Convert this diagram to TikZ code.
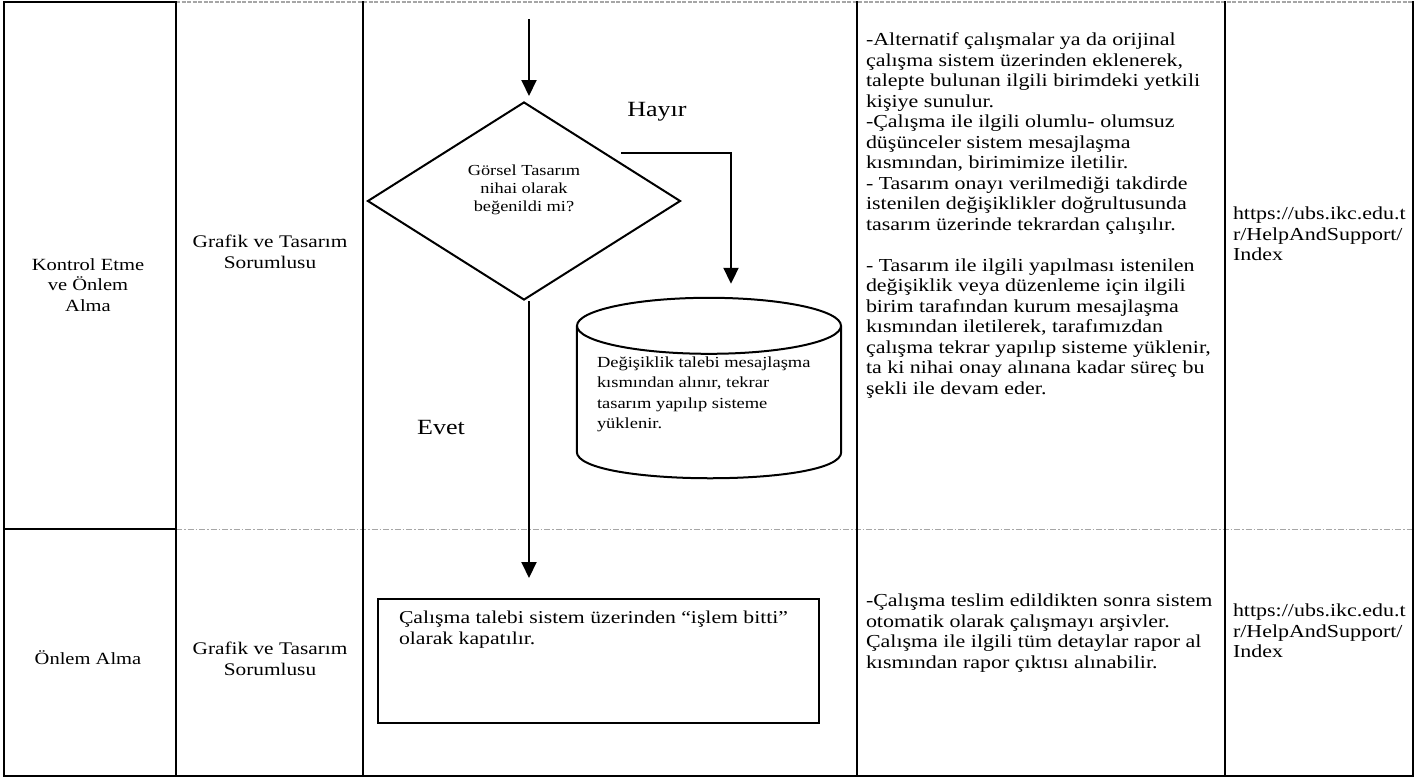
\documentclass[tikz,border=0pt]{standalone}
\usepackage{fontspec}
\setmainfont{Liberation Serif}[FakeStretch=1.2]
\usetikzlibrary{arrows.meta,shapes.geometric,calc}
\newcommand\fmain{\fontsize{18.3}{20.5}\selectfont}
\newcommand\fcolA{\fontsize{17.1}{20.5}\selectfont}
\newcommand\fcolB{\fontsize{17.75}{21.5}\selectfont}
\newcommand\fdia{\fontsize{15.3}{18.3}\selectfont}
\newcommand\fcyl{\fontsize{15.4}{20.3}\selectfont}
\newcommand\frect{\fontsize{18.1}{21}\selectfont}
\newcommand\fbig{\fontsize{21.7}{26}\selectfont}
\begin{document}
\begin{tikzpicture}[x=1pt,y=-1pt,
  gridline/.style={line width=2pt,black},
  sepline/.style={line width=1.3pt,gray!70,dash pattern=on 4pt off 1.5pt},
  seprow/.style={line width=1pt,gray!70,dash pattern=on 6pt off 2pt on 1.5pt off 2pt},
  flow/.style={line width=2pt},
  arr/.style={flow,-{Triangle[width=15pt,length=16pt]}},
  txt/.style={inner sep=0pt,outer sep=0pt,align=left,anchor=north west,font=\fmain},
  ctxt/.style={inner sep=0pt,outer sep=0pt,align=center,font=\fcolA}]
\useasboundingbox (0,0) rectangle (1418,779);
% table
\draw[gridline] (4,2) -- (176,2);
\draw[sepline] (176,2) -- (1413,2);
\draw[gridline] (4,529) -- (176,529);
\draw[seprow] (176,529) -- (1413,529);
\draw[gridline] (4,776) -- (1413,776);
\foreach \x in {4,176,363,857,1225,1413} \draw[gridline] (\x,1) -- (\x,777);
% column texts
\node[ctxt] (c1r1) at (88,285) {Kontrol Etme\\ve Önlem\\Alma};
\node[ctxt,font=\fcolB] (c2r1) at (270,252) {Grafik ve Tasarım\\Sorumlusu};
\node[ctxt] (c1r2) at (88,658) {Önlem Alma};
\node[ctxt,font=\fcolB] (c2r2) at (270,659) {Grafik ve Tasarım\\Sorumlusu};
\node[txt] (t1) at (866,33) {-Alternatif çalışmalar ya da orijinal\\
çalışma sistem üzerinden eklenerek,\\
talepte bulunan ilgili birimdeki yetkili\\
kişiye sunulur.\\
-Çalışma ile ilgili olumlu- olumsuz\\
düşünceler sistem mesajlaşma\\
kısmından, birimimize iletilir.\\
- Tasarım onayı verilmediği takdirde\\
istenilen değişiklikler doğrultusunda\\
tasarım üzerinde tekrardan çalışılır.\\[20.5pt]
- Tasarım ile ilgili yapılması istenilen\\
değişiklik veya düzenleme için ilgili\\
birim tarafından kurum mesajlaşma\\
kısmından iletilerek, tarafımızdan\\
çalışma tekrar yapılıp sisteme yüklenir,\\
ta ki nihai onay alınana kadar süreç bu\\
şekli ile devam eder.};
\node[txt] (u1) at (1233,207) {https://ubs.ikc.edu.t\\r/HelpAndSupport/\\Index};
\node[txt] (t2) at (866,594) {-Çalışma teslim edildikten sonra sistem\\
otomatik olarak çalışmayı arşivler.\\
Çalışma ile ilgili tüm detaylar rapor al\\
kısmından rapor çıktısı alınabilir.};
\node[txt] (u2) at (1233,604) {https://ubs.ikc.edu.t\\r/HelpAndSupport/\\Index};
% flowchart
\node[diamond,draw,flow,inner sep=0pt,minimum width=313pt,minimum height=198pt] (d) at (524,201) {};
\node[font=\fdia,align=center,inner sep=0pt] (dt) at (524,190) {Görsel Tasarım\\nihai olarak\\beğenildi mi?};
\coordinate (top) at (529,19);
\draw[arr,shorten >=5pt] (top) -- (top |- d.north);
\node[font=\fbig,inner sep=0pt] (hay) at (657,112) {Hayır};
\coordinate (h1) at (621,153);
\coordinate (h2) at (731,153);
\node[inner sep=0pt,minimum width=264pt,minimum height=180pt] (cyl) at (709,388) {};
\draw[flow] (cyl.north west) ++(0,28) coordinate (cl) -- ++(0,126) .. controls ++(0,35) and ++(0,35) .. ($(cyl.south east)+(0,-26)$) -- ($(cyl.north east)+(0,28)$);
\draw[flow] ($(cyl.north)+(0,28)$) ellipse [x radius=132, y radius=28];
\draw[arr,shorten >=14pt] (h1) -- (h2) -- (h2 |- cyl.north);
\node[txt,font=\fcyl] (cyltxt) at (597,357) {Değişiklik talebi mesajlaşma\\kısmından alınır, tekrar\\tasarım yapılıp sisteme\\yüklenir.};
\node[font=\fbig,inner sep=0pt] (evet) at (441,427) {Evet};
\node[draw,flow,minimum width=441pt,minimum height=124pt,inner sep=0pt] (box) at (598.5,661) {};
\node[txt,font=\frect] (boxtxt) at (399,611) {Çalışma talebi sistem üzerinden “işlem bitti”\\olarak kapatılır.};
\coordinate (b1) at ($(d.south)+(5,0)$);
\draw[arr,shorten >=20pt] (b1) -- (b1 |- box.north);
\end{tikzpicture}
\end{document}
